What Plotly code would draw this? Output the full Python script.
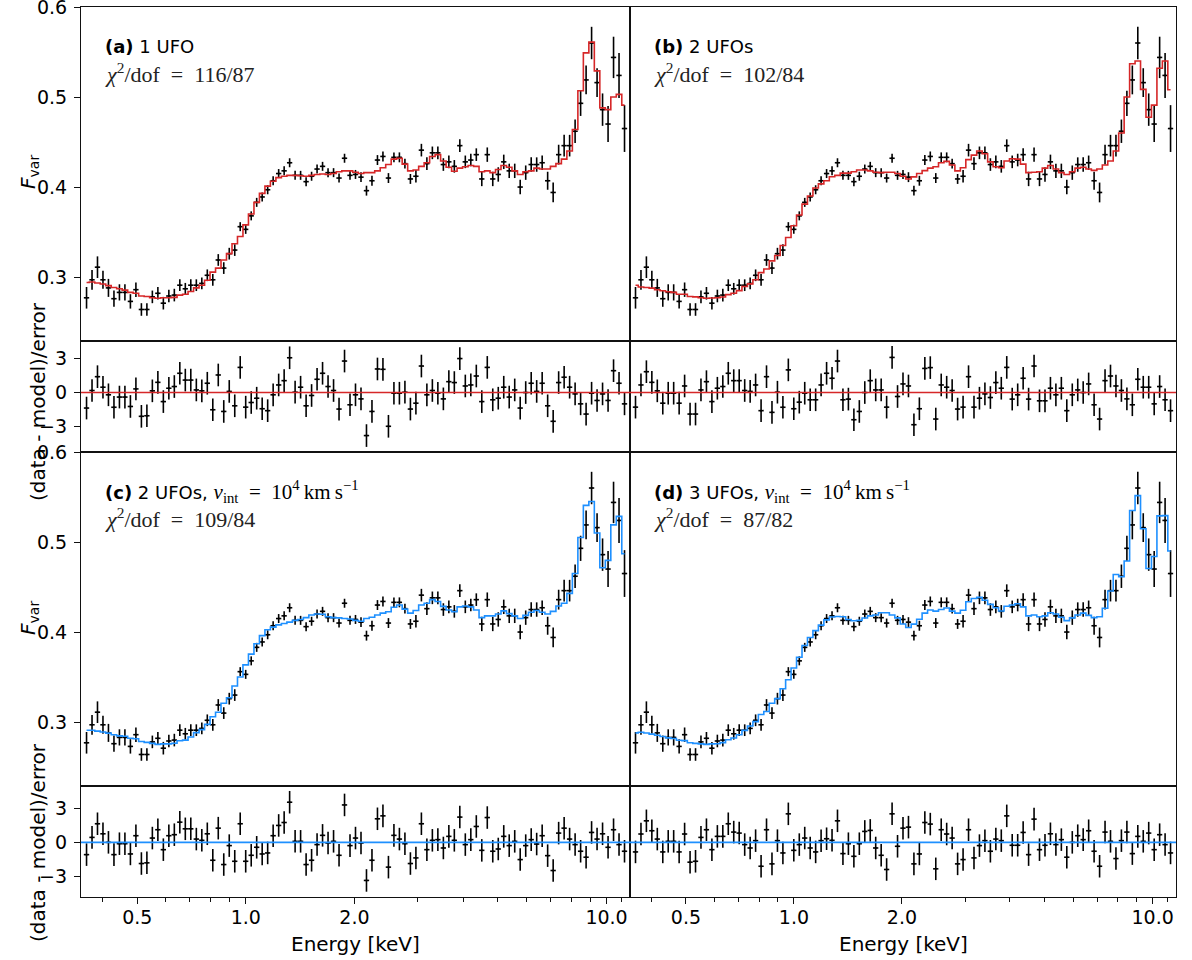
import plotly.graph_objects as go

# ---------------- data ----------------
energy = [0.3617, 0.3746, 0.3879, 0.4017, 0.4160, 0.4309, 0.4462, 0.4621, 0.4786, 0.4957,
          0.5134, 0.5317, 0.5506, 0.5703, 0.5906, 0.6117, 0.6335, 0.6561, 0.6795, 0.7037,
          0.7290, 0.7550, 0.7819, 0.8098, 0.8386, 0.8685, 0.8995, 0.9316, 0.9647, 0.9991,
          1.0349, 1.0717, 1.1099, 1.1495, 1.1904, 1.2331, 1.2770, 1.3225, 1.3696, 1.4184,
          1.4692, 1.5215, 1.5757, 1.6319, 1.6900, 1.7505, 1.8129, 1.8775, 1.9444, 2.0137,
          2.0857, 2.1600, 2.2370, 2.3167, 2.3993, 2.4851, 2.5736, 2.6653, 2.7606, 2.8590,
          2.9613, 3.0668, 3.1761, 3.2893, 3.4066, 3.5285, 3.6543, 3.7844, 3.9194, 4.0591,
          4.2044, 4.3543, 4.5094, 4.6701, 4.8365, 5.0096, 5.1880, 5.3728, 5.5643, 5.7625,
          5.9688, 6.1814, 6.4017, 6.6298, 6.8660, 7.1121, 7.3655, 7.6279, 7.8997, 8.1812,
          8.4743, 8.7762, 9.0889, 9.4128, 9.7482, 10.097, 10.457, 10.829, 11.215]

fvar = [0.277, 0.297, 0.311, 0.297, 0.288, 0.276, 0.283, 0.283, 0.273, 0.286,
        0.264, 0.264, 0.278, 0.282, 0.271, 0.279, 0.280, 0.291, 0.287, 0.291,
        0.291, 0.293, 0.302, 0.297, 0.319, 0.310, 0.326, 0.330, 0.356, 0.353,
        0.368, 0.383, 0.389, 0.397, 0.407, 0.415, 0.418, 0.427, 0.413, 0.413,
        0.406, 0.412, 0.420, 0.423, 0.416, 0.416, 0.410, 0.432, 0.413, 0.414,
        0.411, 0.396, 0.407, 0.430, 0.434, 0.410, 0.433, 0.433, 0.426, 0.409,
        0.412, 0.441, 0.426, 0.438, 0.438, 0.425, 0.428, 0.423, 0.446, 0.428,
        0.430, 0.436, 0.409, 0.436, 0.409, 0.414, 0.428, 0.418, 0.418, 0.400,
        0.416, 0.425, 0.425, 0.427, 0.407, 0.394, 0.436, 0.446, 0.446, 0.462,
        0.493, 0.519, 0.560, 0.516, 0.486, 0.470, 0.544, 0.524, 0.465]

fvar_err = [0.012, 0.011, 0.012, 0.010, 0.010, 0.009, 0.009, 0.009, 0.008, 0.008,
            0.007, 0.007, 0.007, 0.007, 0.007, 0.007, 0.007, 0.0065, 0.0065, 0.0065,
            0.0065, 0.0065, 0.0065, 0.0065, 0.0065, 0.0065, 0.0065, 0.0065, 0.005, 0.005,
            0.005, 0.005, 0.005, 0.005, 0.005, 0.005, 0.005, 0.005, 0.005, 0.005,
            0.005, 0.005, 0.005, 0.005, 0.005, 0.005, 0.005, 0.005, 0.005, 0.005,
            0.0055, 0.0055, 0.0055, 0.0055, 0.0055, 0.0055, 0.0055, 0.0055, 0.0055, 0.0055,
            0.007, 0.007, 0.007, 0.007, 0.007, 0.007, 0.007, 0.007, 0.007, 0.007,
            0.007, 0.007, 0.008, 0.008, 0.008, 0.008, 0.008, 0.008, 0.008, 0.008,
            0.008, 0.008, 0.008, 0.008, 0.010, 0.011, 0.011, 0.012, 0.012, 0.013,
            0.014, 0.016, 0.018, 0.016, 0.018, 0.020, 0.023, 0.025, 0.026]

model_a = [0.294, 0.2945, 0.2935, 0.2923, 0.2905, 0.2885, 0.287, 0.2855, 0.283, 0.282,
           0.279, 0.2785, 0.277, 0.2765, 0.277, 0.277, 0.2775, 0.280, 0.281, 0.284,
           0.288, 0.291, 0.2965, 0.3055, 0.310, 0.319, 0.326, 0.337, 0.345, 0.358,
           0.370, 0.383, 0.393, 0.401, 0.4065, 0.4105, 0.412, 0.413, 0.413, 0.4125,
           0.412, 0.413, 0.414, 0.4145, 0.414, 0.415, 0.417, 0.418, 0.418, 0.4165,
           0.415, 0.416, 0.416, 0.418, 0.4215, 0.425, 0.431, 0.432, 0.4255, 0.418,
           0.419, 0.423, 0.427, 0.434, 0.436, 0.429, 0.422, 0.4175, 0.421, 0.4225,
           0.424, 0.423, 0.417, 0.418, 0.416, 0.4195, 0.424, 0.422, 0.418, 0.414,
           0.417, 0.418, 0.421, 0.420, 0.420, 0.423, 0.426, 0.431, 0.440, 0.464,
           0.507, 0.549, 0.561, 0.529, 0.488, 0.486, 0.500, 0.503, 0.491]

model_b = [0.291, 0.289, 0.2885, 0.2877, 0.286, 0.2848, 0.2837, 0.283, 0.281, 0.281,
           0.2785, 0.278, 0.277, 0.2765, 0.2768, 0.277, 0.2778, 0.2805, 0.282, 0.285,
           0.2895, 0.2924, 0.297, 0.305, 0.309, 0.318, 0.324, 0.335, 0.344, 0.357,
           0.369, 0.381, 0.390, 0.399, 0.4035, 0.407, 0.4115, 0.413, 0.4155, 0.4155,
           0.417, 0.419, 0.419, 0.418, 0.4165, 0.416, 0.4165, 0.4165, 0.415, 0.412,
           0.409, 0.4113, 0.415, 0.4183, 0.421, 0.4225, 0.427, 0.4285, 0.4245, 0.418,
           0.4215, 0.4305, 0.4355, 0.440, 0.437, 0.428, 0.4225, 0.4215, 0.429, 0.4315,
           0.431, 0.4255, 0.416, 0.4165, 0.417, 0.421, 0.424, 0.420, 0.416, 0.414,
           0.417, 0.421, 0.422, 0.420, 0.4185, 0.420, 0.4245, 0.429, 0.440, 0.460,
           0.500, 0.537, 0.540, 0.5085, 0.4775, 0.491, 0.532, 0.540, 0.508]

model_c = [0.291, 0.291, 0.290, 0.289, 0.2877, 0.286, 0.2847, 0.2842, 0.282, 0.2815,
           0.2785, 0.2775, 0.2763, 0.2752, 0.2758, 0.2758, 0.2765, 0.2792, 0.280, 0.2835,
           0.2883, 0.2916, 0.2975, 0.306, 0.311, 0.321, 0.327, 0.340, 0.350, 0.3635,
           0.3755, 0.387, 0.396, 0.4025, 0.4055, 0.408, 0.4095, 0.411, 0.413, 0.414,
           0.416, 0.419, 0.420, 0.4197, 0.417, 0.416, 0.4157, 0.415, 0.4145, 0.413,
           0.412, 0.415, 0.4165, 0.419, 0.421, 0.4225, 0.4275, 0.430, 0.4255, 0.421,
           0.424, 0.430, 0.432, 0.436, 0.434, 0.4285, 0.4245, 0.4225, 0.428, 0.429,
           0.428, 0.4245, 0.416, 0.418, 0.418, 0.420, 0.4235, 0.4205, 0.418, 0.415,
           0.4185, 0.422, 0.424, 0.422, 0.420, 0.423, 0.429, 0.432, 0.443, 0.465,
           0.505, 0.5407, 0.545, 0.510, 0.4715, 0.4796, 0.519, 0.5285, 0.487]

model_d = [0.288, 0.2887, 0.2879, 0.2866, 0.2853, 0.284, 0.2825, 0.2817, 0.2798, 0.2794,
           0.277, 0.2764, 0.2758, 0.2752, 0.2758, 0.276, 0.2772, 0.2804, 0.2823, 0.286,
           0.2908, 0.2957, 0.3005, 0.3085, 0.3118, 0.321, 0.326, 0.337, 0.347, 0.360,
           0.372, 0.385, 0.394, 0.4016, 0.4077, 0.4135, 0.4167, 0.4172, 0.417, 0.414,
           0.4125, 0.413, 0.4156, 0.418, 0.419, 0.4214, 0.4215, 0.419, 0.4157, 0.409,
           0.405, 0.4088, 0.4143, 0.421, 0.4245, 0.4232, 0.425, 0.4268, 0.4232, 0.421,
           0.4243, 0.4336, 0.4373, 0.4385, 0.4353, 0.4307, 0.427, 0.4234, 0.4287, 0.430,
           0.4315, 0.428, 0.418, 0.419, 0.417, 0.418, 0.4215, 0.420, 0.4165, 0.4127,
           0.4157, 0.419, 0.421, 0.4185, 0.416, 0.417, 0.4265, 0.4456, 0.464, 0.4615,
           0.479, 0.535, 0.5515, 0.5148, 0.4706, 0.484, 0.529, 0.5293, 0.490]

res_a = [-1.37, 0.18, 1.4, 0.47, -0.2, -1.3, -0.4, -0.4, -1.23, 0.32,
         -2.1, -2.05, 0.15, 0.9, -0.8, 0.38, 0.53, 1.7, 1.1, 1.1,
         0.23, 0.15, 0.82, -1.52, 1.55, -1.67, 0.1, -1.17, 2.22, -1.29,
         -0.88, -0.5, -1.43, -1.6, -0.2, 0.67, 1.05, 3.07, 0.03, 0.47,
         -1.17, -0.26, 1.17, 1.7, 0.53, 0.18, -1.46, 2.78, -1.08, -0.2,
         -0.56, -3.8, -1.67, 2.08, 2.05, -2.98, -0.06, -0.06, 0.03, -1.46,
         -0.94, 2.34, -0.2, 0.18, -0.06, -0.56, 0.96, 0.88, 3.0, 0.58,
         0.67, 1.46, -0.8, 2.22, -0.64, -0.5, 0.47, -0.4, 0.23, -1.37,
         0.0, 0.82, 0.1, 0.82, -1.17, -2.54, 0.88, 1.35, 0.47, -0.12,
         -1.0, -1.9, -0.06, -0.7, -0.12, -0.7, 1.93, 0.82, -1.0]

res_b = [-1.29, 0.67, 1.84, 0.9, 0.15, -0.94, -0.06, -0.06, -0.94, 0.58,
         -1.9, -1.9, 0.23, 0.96, -0.8, 0.38, 0.53, 1.7, 1.05, 1.05,
         0.18, 0.1, 0.67, -1.6, 1.4, -1.75, 0.03, -1.3, 2.0, -1.43,
         -0.85, -0.06, -0.64, -0.64, 0.67, 1.7, 1.26, 2.78, -0.64, -0.58,
         -2.4, -1.67, 0.0, 1.05, 0.23, 0.23, -1.29, 3.1, -0.35, 0.76,
         0.58, -2.84, -1.43, 2.13, 2.2, -2.34, 0.67, 0.47, 0.18, -1.46,
         -1.29, 1.4, -1.29, -0.5, -0.12, -0.44, 0.88, 0.38, 2.22, -0.58,
         -0.2, 1.26, -0.58, 2.34, -0.73, -0.73, 0.38, -0.2, 0.38, -1.6,
         -0.2, 0.23, 0.0, 0.76, -1.08, -2.34, 1.05, 1.46, 0.58, 0.18,
         -0.56, -1.08, 1.17, 0.47, 0.47, -1.0, 0.53, -0.64, -1.6]

res_c = [-1.09, 0.44, 1.65, 0.76, 0.0, -1.09, -0.12, -0.12, -1.03, 0.59,
         -1.88, -1.82, 0.38, 1.12, -0.65, 0.59, 0.68, 1.79, 1.2, 1.2,
         0.29, 0.18, 0.76, -1.59, 1.26, -1.97, -0.29, -1.68, 1.65, -1.68,
         -1.15, -0.44, -1.03, -0.94, 0.59, 1.5, 1.76, 3.56, 0.09, 0.09,
         -1.97, -1.59, -0.2, 0.62, -0.06, 0.09, -1.15, 3.32, -0.29, 0.38,
         -0.06, -3.38, -1.59, 2.09, 2.35, -2.2, 0.62, 0.29, -0.12, -1.88,
         -1.38, 1.65, -0.65, 0.18, 0.24, -0.5, 0.53, 0.18, 2.24, -0.2,
         0.24, 1.41, -0.71, 2.2, -0.79, -0.59, 0.53, -0.29, 0.09, -1.53,
         -0.29, 0.24, -0.15, 0.59, -1.18, -2.5, 0.82, 1.26, 0.29, -0.2,
         -0.79, -1.32, 0.88, 0.29, 0.76, -0.44, 1.12, -0.2, -0.79]

res_d = [-0.85, 0.74, 1.91, 1.03, 0.29, -0.85, 0.09, 0.09, -0.85, 0.74,
         -1.76, -1.68, 0.44, 1.12, -0.65, 0.53, 0.53, 1.65, 0.91, 0.82,
         -0.2, -0.5, 0.15, -2.12, 1.12, -1.91, 0.15, -0.94, 2.53, -0.71,
         -0.2, 0.38, -0.5, -0.85, 0.15, 0.32, 0.18, 1.91, -1.0, -0.12,
         -1.24, -0.12, 0.97, 1.06, -0.5, -1.15, -2.41, 2.53, -0.35, 1.26,
         1.35, -1.91, -1.03, 1.76, 1.62, -2.35, 1.12, 0.74, 0.38, -1.91,
         -1.53, 1.12, -1.38, -0.29, 0.15, -0.79, 0.29, 0.15, 2.35, -0.26,
         -0.26, 0.88, -1.09, 2.06, -0.65, -0.26, 0.76, -0.2, 0.24, -1.32,
         0.0, 0.59, 0.24, 1.03, -0.79, -2.12, 0.91, 0.09, -1.44, 0.15,
         0.91, -1.0, 0.53, 0.09, 0.82, -0.65, 0.68, -0.2, -0.94]

panel_labels = ["(a)", "(b)", "(c)", "(d)"]
panel_titles = ["1 UFO", "2 UFOs", "2 UFOs, ", "3 UFOs, "]
chi2_texts = ["116/87", "102/84", "109/84", "87/82"]

xtick_vals = [0.5, 1.0, 2.0, 10.0]
xtick_text = ["0.5", "1.0", "2.0", "10.0"]
xminor_vals = [0.4, 0.6, 0.7, 0.8, 0.9, 3, 4, 5, 6, 7, 8, 9, 11]
ytick_main = [0.3, 0.4, 0.5, 0.6]
ytick_res = [-3, 0, 3]
ytick_res_text = ["\u22123", "0", "3"]

# ---------------- style / layout ----------------
RED = "#d62728"
BLUE = "#1e90ff"
SANS = "DejaVu Sans"
SERIF = "Liberation Serif"
W, H = 1192, 960

xL = [81 / W, 630 / W]
xR = [630 / W, 1176 / W]
def ydom(top, bot):
    return [(H - bot) / H, (H - top) / H]
row_dom = {
    ("r1", "main"): ydom(7, 341),
    ("r1", "res"): ydom(341, 452),
    ("r2", "main"): ydom(452, 786),
    ("r2", "res"): ydom(786, 897),
}
XRANGE = [-0.457, 1.065]
MAIN_YR = [0.229, 0.6]
RES_YR = {"r1": [-5.25, 4.55], "r2": [-4.85, 5.0]}

panels = [
    dict(model=model_a, res=res_a, color=RED, xd=xL, row="r1", left=True),
    dict(model=model_b, res=res_b, color=RED, xd=xR, row="r1", left=False),
    dict(model=model_c, res=res_c, color=BLUE, xd=xL, row="r2", left=True),
    dict(model=model_d, res=res_d, color=BLUE, xd=xR, row="r2", left=False),
]

fig = go.Figure()
layout = dict(
    template="none",
    width=W, height=H, margin=dict(l=0, r=0, t=0, b=0, autoexpand=False),
    paper_bgcolor="white", plot_bgcolor="white", showlegend=False,
    font=dict(family=SANS, size=19, color="black"),
)
annotations = []
shapes = []

frame = dict(showline=True, mirror=True, linecolor="#111", linewidth=1.2,
             showgrid=False, zeroline=False, automargin=False)

for k, p in enumerate(panels):
    im = 2 * k + 1
    ir = 2 * k + 2
    xm, ym = f"x{im}", f"y{im}"
    xr, yr = f"x{ir}", f"y{ir}"
    # data in main panel
    fig.add_trace(go.Scatter(
        x=energy, y=fvar, mode="markers", xaxis=xm, yaxis=ym,
        marker=dict(size=2, color="black"),
        error_y=dict(type="data", array=fvar_err, color="black", thickness=1.6, width=0),
        error_x=dict(type="percent", value=1.7, color="black", thickness=1.6, width=0),
        hoverinfo="skip"))
    fig.add_trace(go.Scatter(
        x=energy, y=p["model"], mode="lines", xaxis=xm, yaxis=ym,
        line=dict(shape="hvh", color=p["color"], width=1.6), hoverinfo="skip"))
    # residual panel
    fig.add_trace(go.Scatter(
        x=energy, y=p["res"], mode="markers", xaxis=xr, yaxis=yr,
        marker=dict(size=2, color="black"),
        error_y=dict(type="constant", value=1, color="black", thickness=1.6, width=0),
        error_x=dict(type="percent", value=1.7, color="black", thickness=1.6, width=0),
        hoverinfo="skip"))
    shapes.append(dict(type="line", xref=f"{xr} domain", x0=0, x1=1, yref=yr, y0=0, y1=0,
                       line=dict(color=p["color"], width=1.6), layer="above"))

    bottom = (p["row"] == "r2")
    # x axes
    layout[f"xaxis{im}"] = dict(frame, type="log", range=XRANGE, domain=p["xd"], anchor=ym,
                                ticks="", showticklabels=False)
    xr_ax = dict(frame, type="log", range=XRANGE, domain=p["xd"], anchor=yr)
    if bottom:
        xr_ax.update(ticks="outside", ticklen=6, tickwidth=1.1, tickcolor="#111",
                     tickmode="array", tickvals=xtick_vals, ticktext=xtick_text,
                     tickfont=dict(size=19, family=SANS), ticklabelstandoff=-3,
                     minor=dict(ticks="outside", ticklen=3.5, tickwidth=1, tickcolor="#111",
                                tickmode="array", tickvals=xminor_vals))
    else:
        xr_ax.update(ticks="", showticklabels=False)
    layout[f"xaxis{ir}"] = xr_ax
    # y axes
    ym_ax = dict(frame, range=MAIN_YR, domain=row_dom[(p["row"], "main")], anchor=xm)
    yr_ax = dict(frame, range=RES_YR[p["row"]], domain=row_dom[(p["row"], "res")], anchor=xr)
    if p["left"]:
        ym_ax.update(ticks="outside", ticklen=6, tickwidth=1.1, tickcolor="#111",
                     tickmode="array", tickvals=ytick_main,
                     ticktext=[f"{v:.1f}" for v in ytick_main],
                     tickfont=dict(size=19, family=SANS), ticklabelstandoff=3,
                     ticklabeloverflow="allow")
        yr_ax.update(ticks="outside", ticklen=6, tickwidth=1.1, tickcolor="#111",
                     tickmode="array", tickvals=ytick_res, ticktext=ytick_res_text,
                     tickfont=dict(size=19, family=SANS), ticklabelstandoff=3,
                     ticklabeloverflow="allow")
    else:
        ym_ax.update(ticks="", showticklabels=False)
        yr_ax.update(ticks="", showticklabels=False)
    layout[f"yaxis{im}"] = ym_ax
    layout[f"yaxis{ir}"] = yr_ax

    # panel text
    x0 = (p["xd"][0] * W + 22) / W
    top_px = 7 if p["row"] == "r1" else 452
    title = f"<b>{panel_labels[k]}</b> {panel_titles[k]}"
    if k >= 2:
        title += (f"<span style='font-family:{SERIF};font-size:21px'>"
                  "<i>v</i><sub>int</sub>\u2002=\u200210<sup>4</sup>\u2009km\u2009s<sup>\u22121</sup></span>")
    annotations.append(dict(text=title, xref="paper", yref="paper", x=x0,
                            y=(H - (top_px + 39)) / H, xanchor="left", yanchor="middle",
                            showarrow=False, font=dict(family=SANS, size=18, color="black")))
    annotations.append(dict(text=f"<i>\u03c7</i><sup>2</sup>/dof\u2002=\u2002{chi2_texts[k]}",
                            xref="paper", yref="paper", x=x0,
                            y=(H - (top_px + 66)) / H, xanchor="left", yanchor="middle",
                            showarrow=False, font=dict(family=SERIF, size=22, color="#222")))

# axis titles as annotations
for cy in [172, 618]:
    annotations.append(dict(text="<i>F</i><sub>var</sub>", xref="paper", yref="paper",
                            x=29 / W, y=(H - cy) / H, textangle=-90, showarrow=False,
                            xanchor="center", yanchor="middle",
                            font=dict(family=SANS, size=20, color="black")))
for cy in [402, 843]:
    annotations.append(dict(text="(data - model)/error", xref="paper", yref="paper",
                            x=38 / W, y=(H - cy) / H, textangle=-90, showarrow=False,
                            xanchor="center", yanchor="middle",
                            font=dict(family=SANS, size=20, color="black")))
for cx in [355.5, 903]:
    annotations.append(dict(text="Energy [keV]", xref="paper", yref="paper",
                            x=cx / W, y=(H - 944) / H, showarrow=False,
                            xanchor="center", yanchor="middle",
                            font=dict(family=SANS, size=20, color="black")))

layout["annotations"] = annotations
layout["shapes"] = shapes
fig.update_layout(**layout)
fig.write_html("out.html")
